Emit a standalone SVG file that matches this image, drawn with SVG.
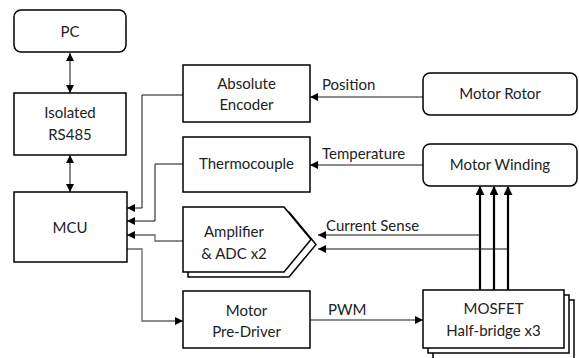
<svg xmlns="http://www.w3.org/2000/svg" width="579" height="358" viewBox="0 0 579 358">
<style>
.box{fill:#fff;stroke:#000;stroke-width:1.5}
.t{font-family:Lato,"Liberation Sans",sans-serif;font-size:15px;fill:#222;text-anchor:middle}
.lb{font-family:Lato,"Liberation Sans",sans-serif;font-size:15px;fill:#222}
.c{fill:none;stroke:#111;stroke-width:1}
.g{fill:none;stroke:#666;stroke-width:1.3}
.k{fill:none;stroke:#000;stroke-width:2.2}
</style>
<defs>
<marker id="ah" viewBox="0 0 10 10" refX="10" refY="5" markerWidth="8" markerHeight="8" orient="auto-start-reverse" markerUnits="userSpaceOnUse"><path d="M0,0 L10,5 L0,10 z" fill="#000"/></marker>
<marker id="ahk" viewBox="0 0 10 10" refX="9" refY="5" markerWidth="9" markerHeight="9" orient="auto" markerUnits="userSpaceOnUse"><path d="M0,0 L10,5 L0,10 z" fill="#000"/></marker>
</defs>
<rect width="579" height="358" fill="#fff"/>
<g id="connectors">
<line class="c" x1="70" y1="53" x2="70" y2="93" marker-start="url(#ah)" marker-end="url(#ah)"/>
<line class="c" x1="70" y1="155" x2="70" y2="192" marker-start="url(#ah)" marker-end="url(#ah)"/>
<polyline class="c" points="183,95 142,95 142,208 127,208" marker-end="url(#ah)"/>
<polyline class="c" points="183,164 155,164 155,221 127,221" marker-end="url(#ah)"/>
<polyline class="g" points="183,241 155,241 155,235 127,235" marker-end="url(#ah)"/>
<polyline class="g" points="127,249 142,249 142,321 183,321" marker-end="url(#ah)"/>
<line class="g" x1="310" y1="320" x2="423" y2="320" marker-end="url(#ah)"/>
<line class="g" x1="423" y1="97" x2="310" y2="97" marker-end="url(#ah)"/>
<line class="g" x1="423" y1="165" x2="310" y2="165" marker-end="url(#ah)"/>
<line class="k" x1="480" y1="290" x2="480" y2="187" marker-end="url(#ahk)"/>
<line class="k" x1="494" y1="290" x2="494" y2="187" marker-end="url(#ahk)"/>
<line class="k" x1="508" y1="290" x2="508" y2="187" marker-end="url(#ahk)"/>
<polyline class="c" points="480,235 318,235" marker-end="url(#ah)"/>
<polyline class="c" points="508,249 318,249" marker-end="url(#ah)"/>
<text class="lb" x="322" y="90">Position</text>
<text class="lb" x="322" y="159">Temperature</text>
<text class="lb" x="326" y="231">Current Sense</text>
<text class="lb" x="328" y="315">PWM</text>
</g>
<g id="pc">
<rect class="box" x="14" y="10" width="112" height="42" rx="7"/>
<text class="t" x="70" y="37">PC</text>
</g>
<g id="rs485">
<rect class="box" x="14" y="93" width="112" height="62"/>
<text class="t" x="70" y="118">Isolated</text>
<text class="t" x="70" y="140">RS485</text>
</g>
<g id="mcu">
<rect class="box" x="14" y="192" width="113" height="70"/>
<text class="t" x="70" y="233">MCU</text>
</g>
<g id="encoder">
<rect class="box" x="183" y="65" width="127" height="57"/>
<text class="t" x="246.5" y="89">Absolute</text>
<text class="t" x="246.5" y="110">Encoder</text>
</g>
<g id="thermocouple">
<rect class="box" x="183" y="137" width="127" height="55"/>
<text class="t" x="246.5" y="169">Thermocouple</text>
</g>
<g id="amplifier">
<path class="box" d="M188,212 L289,212 L316,244.5 L289,277 L188,277 Z"/>
<path class="box" d="M183,207 L284,207 L311,239.5 L284,272 L183,272 Z"/>
<text class="t" x="234" y="237">Amplifier</text>
<text class="t" x="234" y="259">&amp; ADC x2</text>
</g>
<g id="predriver">
<rect class="box" x="183" y="291" width="127" height="57"/>
<text class="t" x="246.5" y="316">Motor</text>
<text class="t" x="246.5" y="337">Pre-Driver</text>
</g>
<g id="rotor">
<rect class="box" x="423" y="73" width="154" height="42" rx="7"/>
<text class="t" x="500" y="99">Motor Rotor</text>
</g>
<g id="winding">
<rect class="box" x="423" y="144" width="154" height="42" rx="7"/>
<text class="t" x="500" y="170">Motor Winding</text>
</g>
<g id="mosfet">
<rect class="box" x="433" y="300" width="141" height="60"/>
<rect class="box" x="428" y="295" width="141" height="58"/>
<rect class="box" x="423" y="290" width="141" height="58"/>
<text class="t" x="493.5" y="314">MOSFET</text>
<text class="t" x="493.5" y="336">Half-bridge x3</text>
</g>
</svg>
